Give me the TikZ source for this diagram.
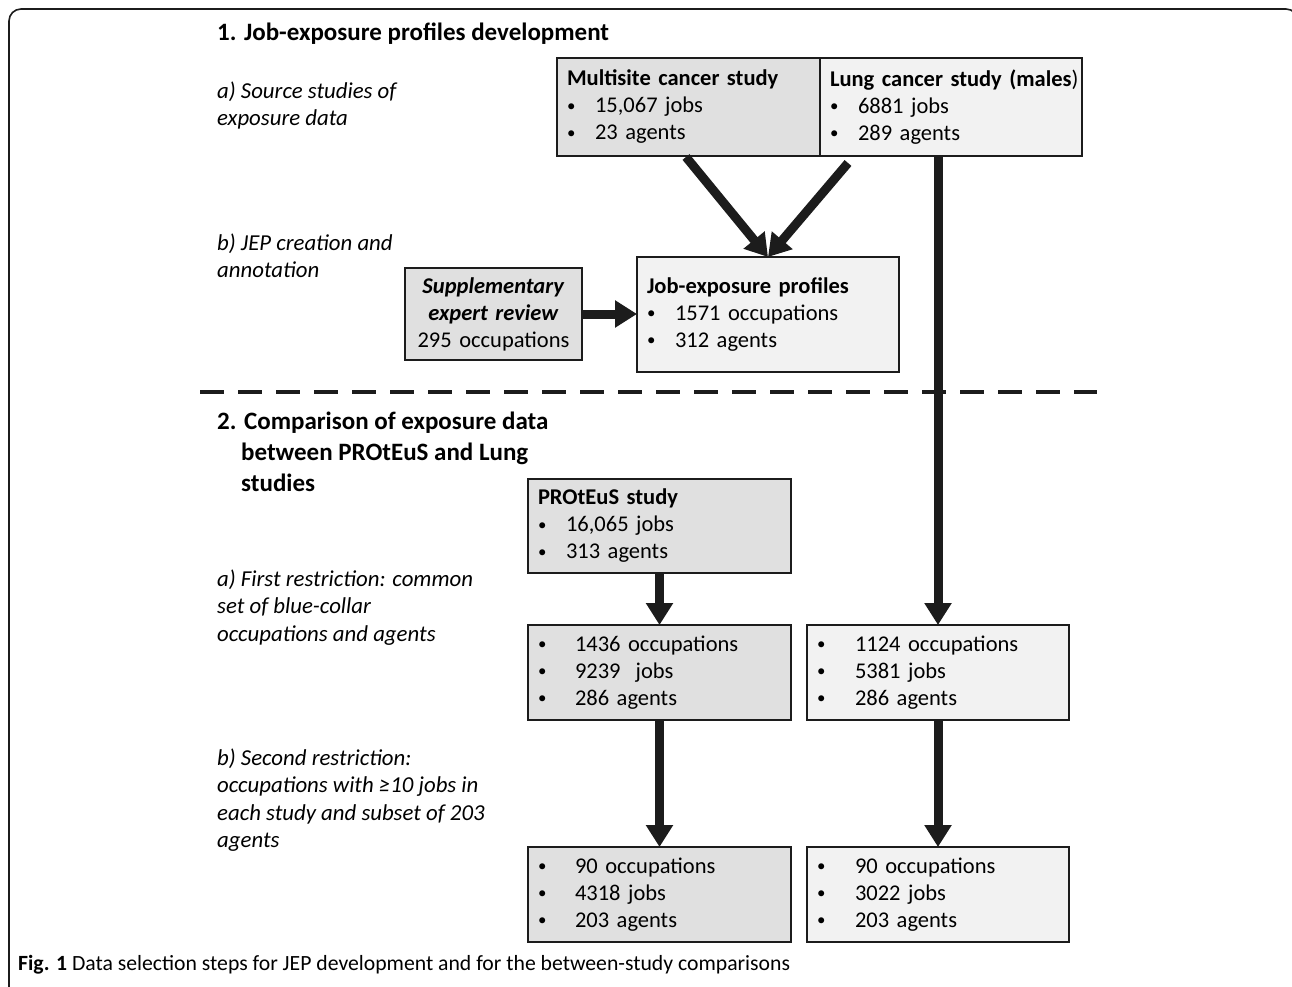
\documentclass[tikz,border=0pt]{standalone}
\usepackage{fontspec}
\setmainfont{Carlito}
\usepackage{xcolor}
\usetikzlibrary{positioning, arrows.meta}

\definecolor{boxdark}{HTML}{E0E0E0}
\definecolor{boxlight}{HTML}{F2F2F2}
\definecolor{edge}{HTML}{1C1C1C}

% bullet line with a fixed indent
\newcommand{\bul}[2][28pt]{\makebox[#1][l]{\raisebox{1.5pt}{\scalebox{0.75}{\textbullet}}}#2}

\begin{document}
\begin{tikzpicture}[
    x=1pt, y=-1pt,
    box/.style 2 args={draw=edge, line width=2pt, outer sep=0pt, inner xsep=10pt, inner ysep=0pt,
                text width=#1-20pt, minimum height=#2, align=left, anchor=north west,
                font=\fontsize{22.5}{27}\selectfont},
    dark/.style 2 args={box={#1}{#2}, fill=boxdark},
    light/.style 2 args={box={#1}{#2}, fill=boxlight},
    note/.style={align=left, anchor=west, inner sep=0pt, font=\fontsize{22.8}{27.5}\selectfont\itshape},
    head/.style={align=left, anchor=west, inner sep=0pt, font=\fontsize{25}{31}\selectfont\bfseries},
    arrow/.style={-{Triangle[width=26pt, length=22pt]}, line width=9pt, edge},
    sep/.style={line width=4pt, edge, dash pattern=on 24pt off 14pt},
]
\clip (0,0) rectangle (1292,987);

% --- Frame ---
\draw[edge, line width=1.6pt, rounded corners=12pt] (9,995) -- (9,9) -- (1298,9) -- (1298,995);

% --- Part 1: JEP development ---
\node[head] (h1) at (217,34) {1. Job-exposure profiles development};
\node[note] (n1a) at (217,105.5) {a) Source studies of\\exposure data};
\node[note] (n1b) at (217,256) {b) JEP creation and\\annotation};

\node[dark={263pt}{98pt}] (multi) at (557,58)
    {\mbox{\textbf{Multisite cancer study}}\\ \bul{15,067 jobs}\\ \bul{23 agents}};
\node[light={262pt}{98pt}, right=0pt of multi] (lung)
    {\mbox{\textbf{Lung cancer study (males})}\\ \bul{6881 jobs}\\ \bul{289 agents}};

\node[dark={177pt}{92pt}, align=center] (supp) at (405,268)
    {\textbf{\textit{Supplementary}}\\ \textbf{\textit{expert review}}\\ 295 occupations};
\node[light={262pt}{115pt}] (jep) at (637,257)
    {\textbf{Job-exposure profiles}\\ \bul{1571 occupations}\\ \bul{312 agents}};

% --- Separator ---
\coordinate (sepL) at (200,392);
\coordinate (sepR) at (1097,392);
\draw[sep] (sepL) -- (sepR);

% --- Part 2: comparison ---
\node[head] (h2) at (217,451.5)
    {2. Comparison of exposure data\\ \hspace*{24pt}between PROtEuS and Lung\\ \hspace*{24pt}studies};
\node[note] (n2a) at (217,607.5) {a) First restriction: common\\set of blue-collar\\occupations and agents};
\node[note] (n2b) at (217,800)
    {b) Second restriction:\\occupations with ≥10 jobs in\\each study and subset of 203\\agents};

\node[dark={263pt}{94pt}] (prot) at (528,479)
    {\textbf{PROtEuS study}\\ \bul{16,065 jobs}\\ \bul{313 agents}};
\node[dark={263pt}{95pt}, below=52pt of prot] (l1)
    {\bul[37pt]{1436 occupations}\\ \bul[37pt]{9239\ \ jobs}\\ \bul[37pt]{286 agents}};
\node[light={262pt}{95pt}, right=16pt of l1] (r1)
    {\bul[38pt]{1124 occupations}\\ \bul[38pt]{5381 jobs}\\ \bul[38pt]{286 agents}};
\node[dark={263pt}{95pt}, below=127pt of l1] (l2)
    {\bul[37pt]{90 occupations}\\ \bul[37pt]{4318 jobs}\\ \bul[37pt]{203 agents}};
\node[light={262pt}{95pt}, right=16pt of l2] (r2)
    {\bul[38pt]{90 occupations}\\ \bul[38pt]{3022 jobs}\\ \bul[38pt]{203 agents}};

% --- Arrows ---
\coordinate (vL) at (686,157);
\coordinate (vR) at (848,163);
\draw[arrow] (vL) -- (jep.north);
\draw[arrow] (vR) -- (jep.north);
\draw[arrow] (supp.east) -- (supp.east -| jep.west);
\draw[arrow] (r1.north |- lung.south) -- (r1.north);
\draw[arrow] (prot) -- (l1);
\draw[arrow] (l1) -- (l2);
\draw[arrow] (r1) -- (r2);

% --- Caption ---
\node[anchor=west, inner sep=0pt, font=\fontsize{21.7}{24}\selectfont] (cap) at (18,965)
    {\textbf{Fig. 1} Data selection steps for JEP development and for the between-study comparisons};
\end{tikzpicture}
\end{document}
